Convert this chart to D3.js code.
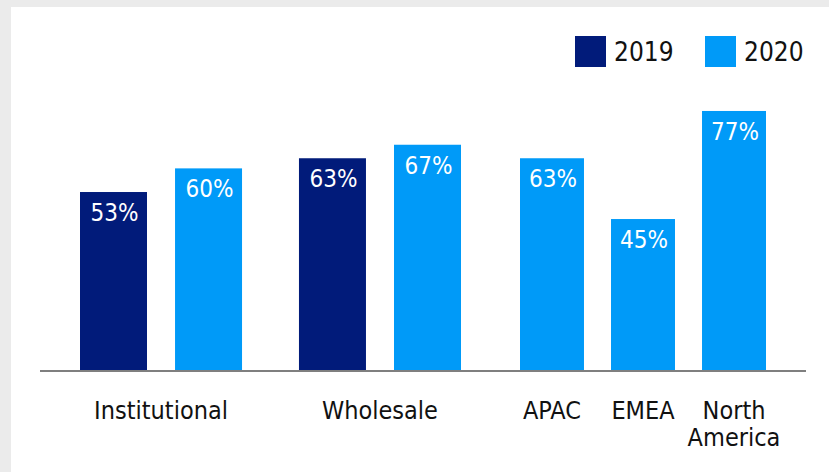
<!DOCTYPE html>
<html>
<head>
<meta charset="utf-8">
<script src="https://cdn.jsdelivr.net/npm/d3@7"></script>
<style>
  html, body { margin: 0; padding: 0; background: #ebebeb; }
  svg { display: block; }
  text { font-family: "DejaVu Sans Condensed", "DejaVu Sans", sans-serif; }
</style>
</head>
<body>
<div id="chart"></div>
<script>
// data
var segments = ["Institutional", "Wholesale"];
var years = ["2019", "2020"];
var values2019 = [53, 63];
var values2020 = [60, 67];
var regions = ["APAC", "EMEA", "North America"];
var regionValues = [63, 45, 77];

var width = 829, height = 472;
var darkBlue = "#011b7a", lightBlue = "#009af8";

var svg = d3.select("#chart")
    .append("svg")
    .attr("width", width)
    .attr("height", height);

// white panel on grey frame
svg.append("rect")
    .attr("x", 11).attr("y", 7)
    .attr("width", width - 11).attr("height", height - 7)
    .attr("fill", "#fff");

var yScale = d3.scaleLinear()
    .domain([0, 100])
    .range([371, 33.3]);

var colorScale = d3.scaleOrdinal()
    .domain(years)
    .range([darkBlue, lightBlue]);

/* segment groups */
var x0 = d3.scaleBand()
    .domain(segments)
    .range([80, 461])
    .paddingInner(0.26)
    .paddingOuter(0);

var x1 = d3.scaleBand()
    .domain(years)
    .range([0, x0.bandwidth()])
    .paddingInner(0.295)
    .paddingOuter(0);

var segData = [];
segments.forEach(function(s, i){
    segData.push({seg: s, year: "2019", value: values2019[i]});
    segData.push({seg: s, year: "2020", value: values2020[i]});
});

/* regions */
var xr = d3.scaleBand()
    .domain(regions)
    .range([520, 766])
    .paddingInner(0.297)
    .paddingOuter(0);

var regData = regions.map(function(r, i){ return {region: r, value: regionValues[i]}; });

// bars
svg.selectAll("rect.seg")
    .data(segData)
    .join("rect")
    .attr("class", "seg")
    .attr("x", d => x0(d.seg) + x1(d.year))
    .attr("y", d => yScale(d.value))
    .attr("width", x1.bandwidth())
    .attr("height", d => yScale(0) - yScale(d.value))
    .attr("fill", d => colorScale(d.year));

svg.selectAll("rect.reg")
    .data(regData)
    .join("rect")
    .attr("class", "reg")
    .attr("x", d => xr(d.region))
    .attr("y", d => yScale(d.value))
    .attr("width", xr.bandwidth())
    .attr("height", d => yScale(0) - yScale(d.value))
    .attr("fill", lightBlue);

// value labels
svg.selectAll("text.segval")
    .data(segData)
    .join("text")
    .attr("class", "segval")
    .attr("x", d => x0(d.seg) + x1(d.year) + x1.bandwidth() / 2 + 1)
    .attr("y", d => yScale(d.value) + 29)
    .attr("text-anchor", "middle")
    .attr("fill", "#fff")
    .style("font-size", "24px")
    .text(d => d.value + "%");

svg.selectAll("text.regval")
    .data(regData)
    .join("text")
    .attr("class", "regval")
    .attr("x", d => xr(d.region) + xr.bandwidth() / 2 + 1)
    .attr("y", d => yScale(d.value) + 29)
    .attr("text-anchor", "middle")
    .attr("fill", "#fff")
    .style("font-size", "24px")
    .text(d => d.value + "%");

// baseline
svg.append("line")
    .attr("x1", 40).attr("x2", 806)
    .attr("y1", yScale(0)).attr("y2", yScale(0))
    .attr("stroke", "#7f7f7f")
    .attr("stroke-width", 2);

// category labels
svg.selectAll("text.segcat")
    .data(segments)
    .join("text")
    .attr("class", "segcat")
    .attr("x", d => x0(d) + x0.bandwidth() / 2)
    .attr("y", 419)
    .attr("text-anchor", "middle")
    .attr("fill", "#111")
    .style("font-size", "25px")
    .text(d => d);

svg.selectAll("text.regcat")
    .data(regions)
    .join("text")
    .attr("class", "regcat")
    .attr("x", d => xr(d) + xr.bandwidth() / 2)
    .attr("y", 419)
    .attr("text-anchor", "middle")
    .attr("fill", "#111")
    .style("font-size", "25px")
    .each(function(d){
        var words = d.split(" ");
        var t = d3.select(this);
        words.forEach(function(w, i){
            t.append("tspan")
                .attr("x", xr(d) + xr.bandwidth() / 2)
                .attr("dy", i === 0 ? 0 : 27)
                .text(w);
        });
    });

// legend
var legend = svg.append("g")
    .selectAll("g")
    .data(years)
    .join("g")
    .attr("transform", (d, i) => `translate(${575 + i * 130}, 36)`);

legend.append("rect")
    .attr("width", 31)
    .attr("height", 31)
    .attr("fill", d => colorScale(d));

legend.append("text")
    .attr("x", 39)
    .attr("y", 25)
    .attr("fill", "#111")
    .style("font-size", "26px")
    .text(d => d);
</script>
</body>
</html>
